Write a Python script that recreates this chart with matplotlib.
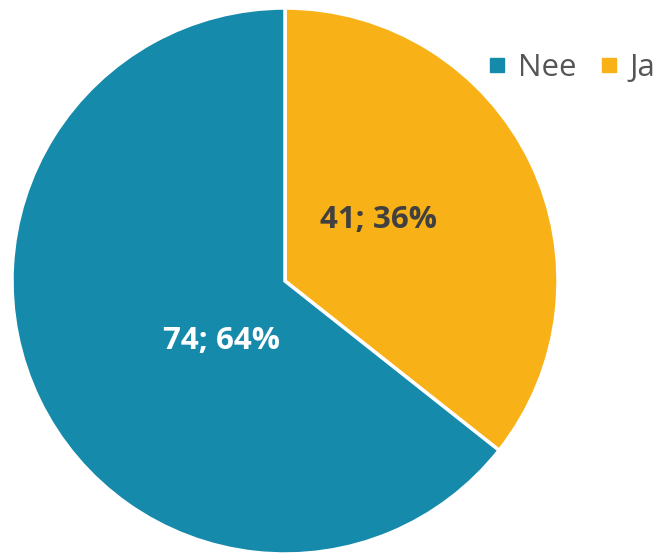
import numpy as np
import matplotlib.pyplot as plt
from matplotlib.lines import Line2D

# --- data --- #
categories = ['Ja', 'Nee']
counts = [41, 74]
percents = [36, 64]
colors = ['#f8b116', '#168aab']
label_colors = ['#404040', '#ffffff']

# --- figure --- #
W, H = 666, 553
fig = plt.figure(figsize=(W / 100, H / 100), dpi=100)
ax = fig.add_axes([0, 0, 1, 1])

cx, cy, r = 285, H - 281, 273
wedges, _ = ax.pie(counts, colors=colors, startangle=90, counterclock=False,
                   center=(cx, cy), radius=r, frame=True,
                   wedgeprops=dict(edgecolor='white', linewidth=2.5))
ax.set_xlim(0, W)
ax.set_ylim(0, H)
ax.set_aspect('equal')
ax.axis('off')

# label placement as (angle, fraction of radius) from pie centre
label_pos = [(33, 0.41), (223, 0.32)]
for i, (ang, frac) in enumerate(label_pos):
    x = cx + frac * r * np.cos(np.radians(ang))
    y = cy + frac * r * np.sin(np.radians(ang))
    ax.text(x, y, '{c}; {p}%'.format(c=counts[i], p=percents[i]),
            ha='center', va='center', fontsize=22.5, fontweight='bold',
            family='Open Sans', color=label_colors[i])

handles = [Line2D([], [], marker='s', linestyle='none', markersize=10,
                  color=colors[i]) for i in (1, 0)]
leg = ax.legend(handles, [categories[1], categories[0]], loc='center left',
                bbox_to_anchor=(476 / W, 1 - 68 / H), ncol=2, frameon=False,
                handlelength=0.55, handletextpad=0.4, columnspacing=0.75,
                borderaxespad=0, prop={'family': 'Open Sans', 'size': 22.5})
for t in leg.get_texts():
    t.set_color('#555555')

fig.savefig('out.png', dpi=100)
